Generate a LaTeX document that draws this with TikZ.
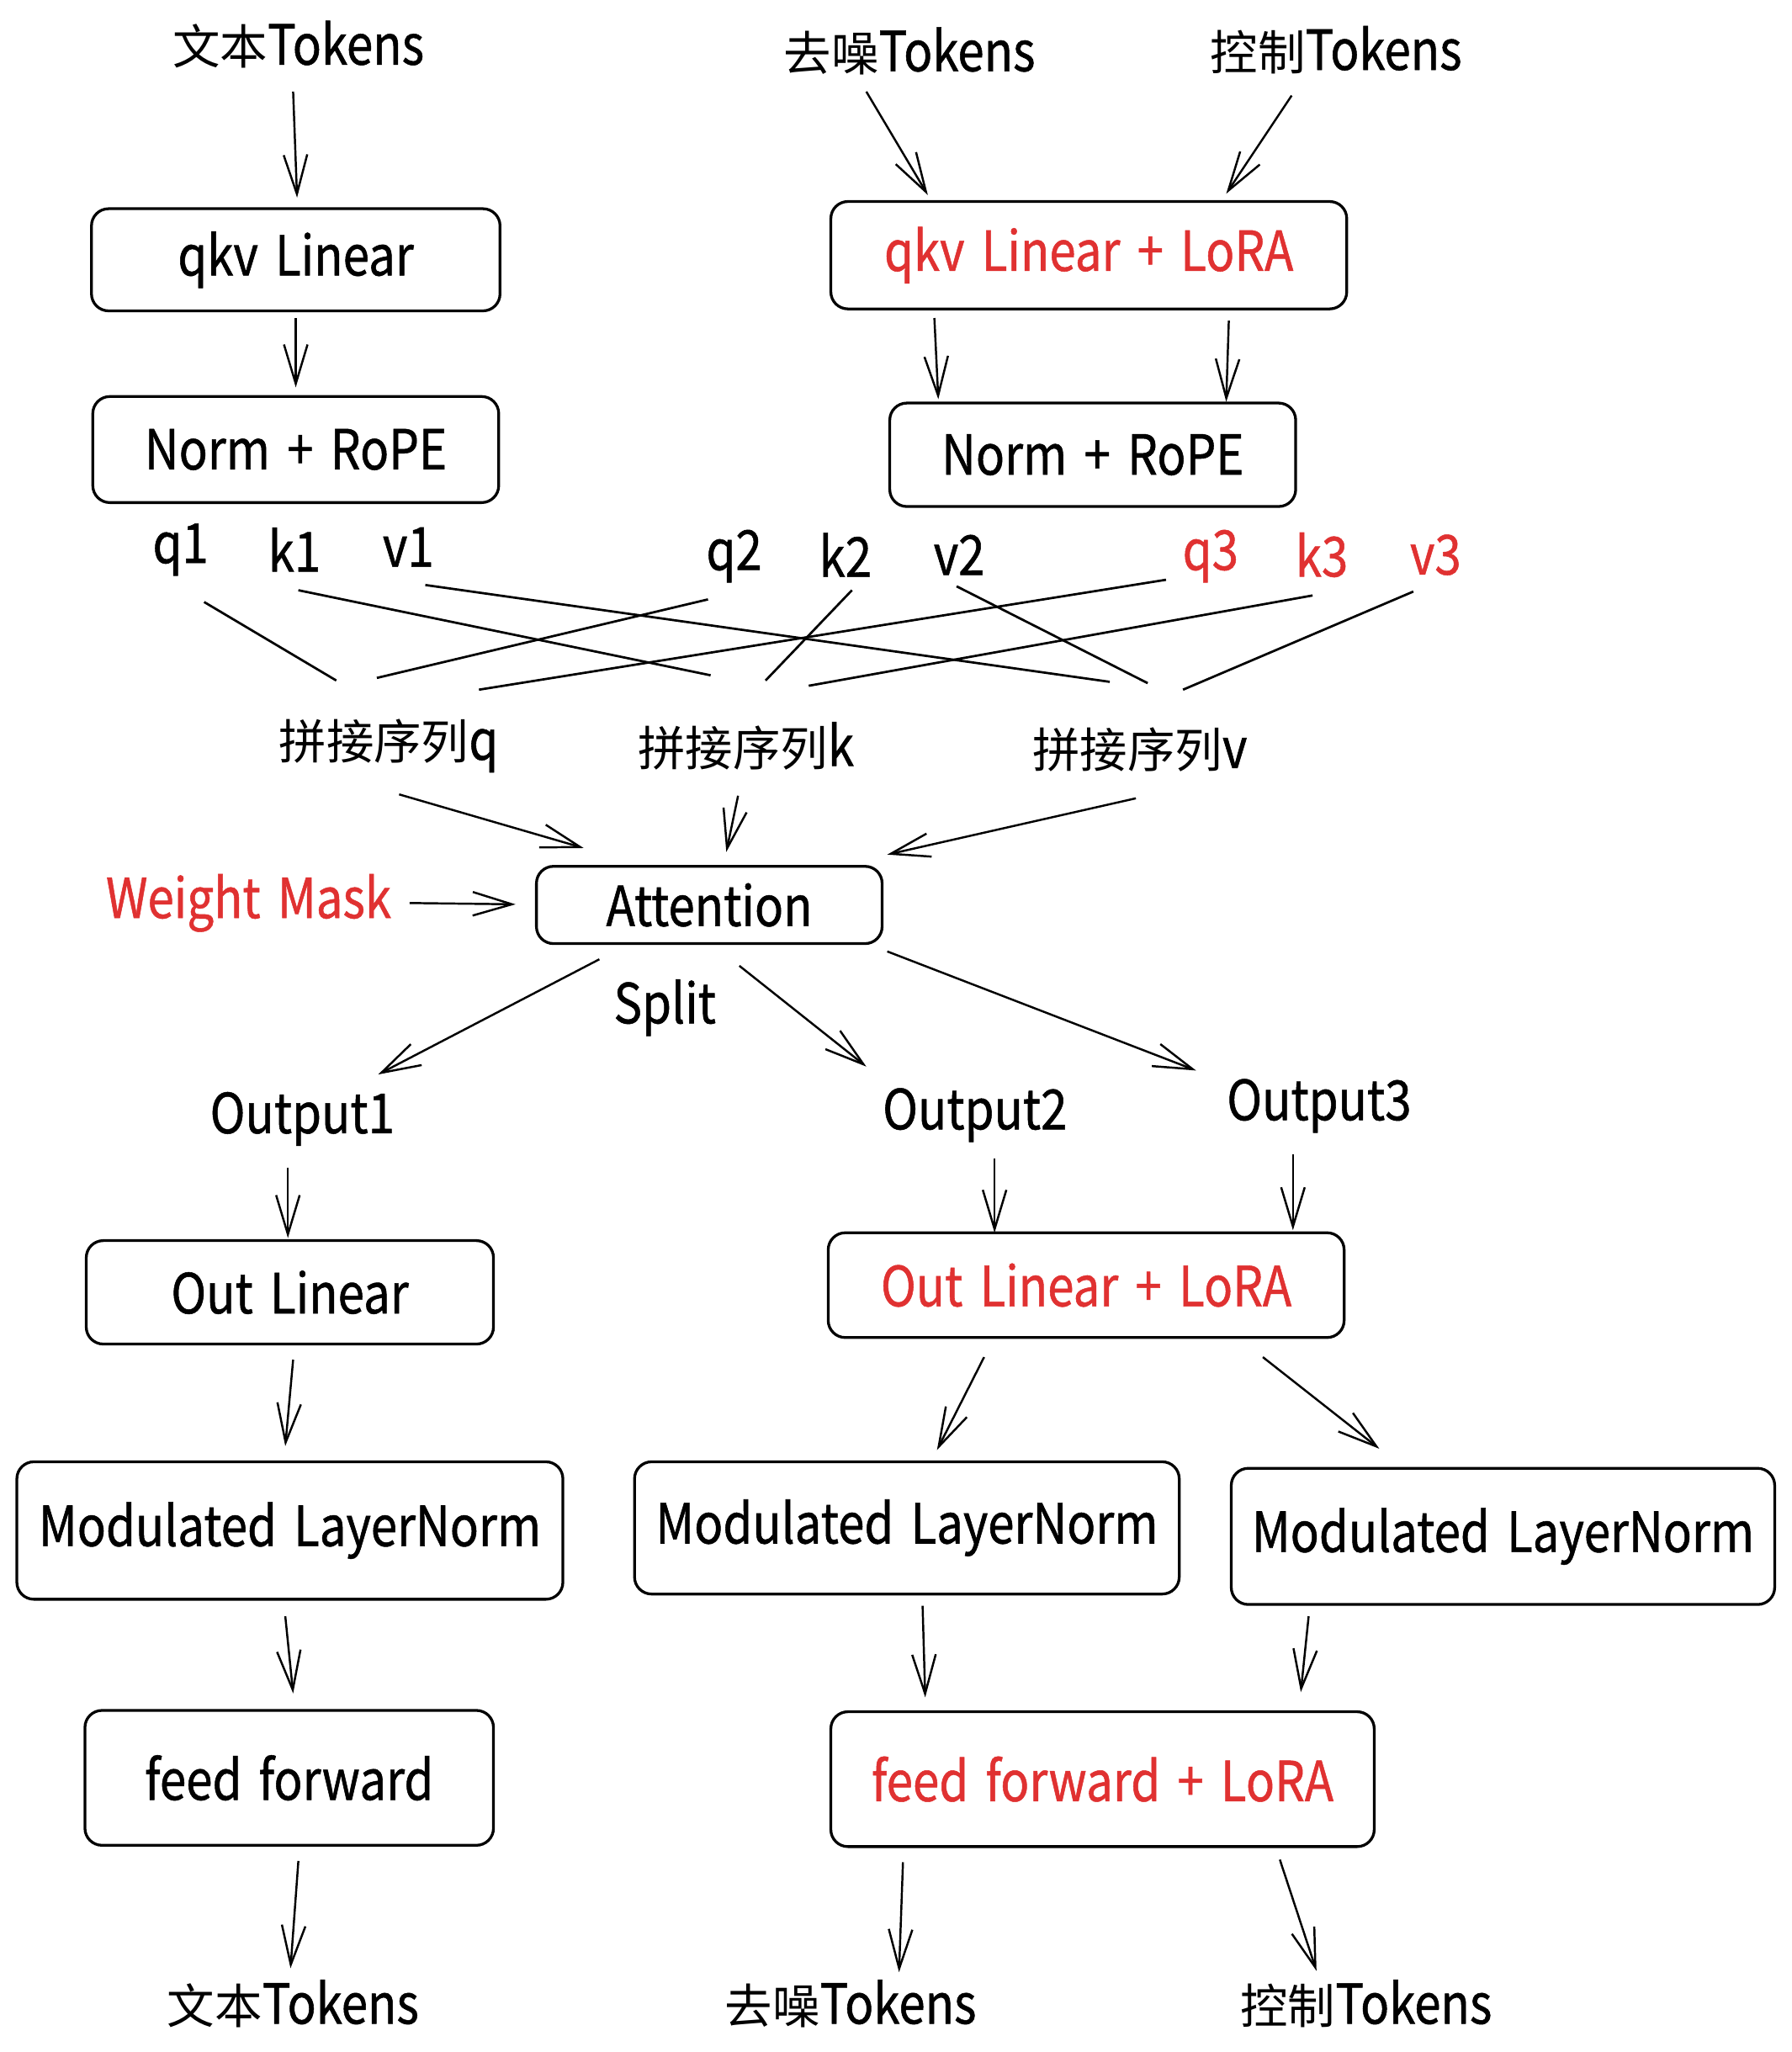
\documentclass[tikz,border=0pt]{standalone}
\usepackage{fontspec}
\setmainfont{Noto Sans CJK SC}[FakeStretch=0.86, FakeBold=0.8, WordSpace=1.6]
\newfontfamily\cjk[Scale=0.86]{Noto Sans CJK SC}
\usetikzlibrary{arrows.meta}
\definecolor{lorared}{RGB}{224,49,49}

\begin{document}
\begin{tikzpicture}[x=0.01cm, y=-0.01cm, font=\fontsize{12}{14}\selectfont]

      \useasboundingbox (0,0) rectangle (1369,1568);

      % blocks
      \begin{scope}[every node/.style={draw, rounded corners=1.3mm, line width=0.6pt, inner sep=0pt}]
        \node[minimum width=3.12cm, minimum height=0.78cm] (qkv1) at (226,198.5) {qkv Linear};
        \node[minimum width=3.94cm, minimum height=0.82cm, text=lorared] (qkv2) at (832,195) {qkv Linear + LoRA};
        \node[minimum width=3.10cm, minimum height=0.81cm] (norm1) at (226,343.5) {Norm + RoPE};
        \node[minimum width=3.10cm, minimum height=0.79cm] (norm2) at (835,347.5) {Norm + RoPE};
        \node[minimum width=2.64cm, minimum height=0.59cm] (attn) at (542,691.5) {Attention};
        \node[minimum width=3.11cm, minimum height=0.79cm] (out1) at (221.5,987.5) {Out Linear};
        \node[minimum width=3.94cm, minimum height=0.80cm, text=lorared] (out2) at (830,982) {Out Linear + LoRA};
        \node[minimum width=4.17cm, minimum height=1.05cm] (mln1) at (221.5,1169.5) {Modulated LayerNorm};
        \node[minimum width=4.16cm, minimum height=1.01cm] (mln2) at (693,1167.5) {Modulated LayerNorm};
        \node[minimum width=4.15cm, minimum height=1.04cm] (mln3) at (1148.5,1174) {Modulated LayerNorm};
        \node[minimum width=3.12cm, minimum height=1.03cm] (ff1) at (221,1358.5) {feed forward};
        \node[minimum width=4.15cm, minimum height=1.03cm, text=lorared] (ff2) at (842.5,1359.5) {feed forward + LoRA};
      \end{scope}

      % labels
      \begin{scope}[every node/.style={inner sep=0pt}]
        \node (tok1) at (228,34) {{\cjk 文本}Tokens};
        \node (tok2) at (695,39) {{\cjk 去噪}Tokens};
        \node (tok3) at (1021,38) {{\cjk 控制}Tokens};
        \node (q1) at (138,420) {q1};
        \node (k1) at (225,420) {k1};
        \node (v1) at (312,418) {v1};
        \node (q2) at (561,425) {q2};
        \node (k2) at (646,424) {k2};
        \node (v2) at (733,424) {v2};
        \node[text=lorared] (q3) at (925,425) {q3};
        \node[text=lorared] (k3) at (1010,424) {k3};
        \node[text=lorared] (v3) at (1097,424) {v3};
        \node (catq) at (297,570) {{\cjk 拼接序列}q};
        \node (catk) at (570,570) {{\cjk 拼接序列}k};
        \node (catv) at (871,573) {{\cjk 拼接序列}v};
        \node[text=lorared] (wm) at (190,690) {Weight Mask};
        \node (split) at (508,770) {Split};
        \node (o1) at (231,855) {Output1};
        \node (o2) at (745,852) {Output2};
        \node (o3) at (1008,845) {Output3};
        \node (btok1) at (224,1531) {{\cjk 文本}Tokens};
        \node (btok2) at (650,1531) {{\cjk 去噪}Tokens};
        \node (btok3) at (1044,1531) {{\cjk 控制}Tokens};
      \end{scope}

      % q/k/v into the concatenated sequences
      \begin{scope}[every edge/.style={draw, line width=0.5pt}]
        \path ([shift={(18,40)}]q1.center)  edge ([shift={(-40,-50)}]catq.center);
        \path ([shift={(3,31)}]k1.center)   edge ([shift={(-27,-54)}]catk.center);
        \path ([shift={(13,29)}]v1.center)  edge ([shift={(-23,-52)}]catv.center);
        \path ([shift={(-20,33)}]q2.center) edge ([shift={(-9,-52)}]catq.center);
        \path ([shift={(5,27)}]k2.center)   edge ([shift={(15,-50)}]catk.center);
        \path ([shift={(-2,24)}]v2.center)  edge ([shift={(6,-51)}]catv.center);
        \path ([shift={(-34,18)}]q3.center) edge ([shift={(69,-43)}]catq.center);
        \path ([shift={(-7,31)}]k3.center)  edge ([shift={(48,-46)}]catk.center);
        \path ([shift={(-17,28)}]v3.center) edge ([shift={(33,-46)}]catv.center);
      \end{scope}

      % arrows
      \begin{scope}[every edge/.style={draw, line width=0.45pt, -{Straight Barb[length=3mm, width=1.8mm]}}]
        \path ([shift={(-4,36)}]tok1.center)    edge ([shift={(1,-47.5)}]qkv1.center);
        \path ([shift={(-33,31)}]tok2.center)   edge ([shift={(-123,-46)}]qkv2.center);
        \path ([shift={(-34,35)}]tok3.center)   edge ([shift={(105,-47)}]qkv2.center);
        \path ([shift={(0,44.5)}]qkv1.center)   edge ([shift={(0,-47.5)}]norm1.center);
        \path ([shift={(-118,48)}]qkv2.center)  edge ([shift={(-118,-42.5)}]norm2.center);
        \path ([shift={(107,50)}]qkv2.center)   edge ([shift={(102,-40.5)}]norm2.center);

        \path ([shift={(8,37)}]catq.center)     edge ([shift={(-96,-43.5)}]attn.center);
        \path ([shift={(-6,38)}]catk.center)    edge ([shift={(13,-40.5)}]attn.center);
        \path ([shift={(-3,37)}]catv.center)    edge ([shift={(136,-38.5)}]attn.center);
        \path ([shift={(123,0)}]wm.center)      edge ([shift={(-148,-0.5)}]attn.center);

        \path ([shift={(-84,41.5)}]attn.center) edge ([shift={(58,-34)}]o1.center);
        \path ([shift={(23,46.5)}]attn.center)  edge ([shift={(-83,-37)}]o2.center);
        \path ([shift={(136,35.5)}]attn.center) edge ([shift={(-94,-27)}]o3.center);

        \path ([shift={(-11,37)}]o1.center)     edge ([shift={(-1.5,-41.5)}]out1.center);
        \path ([shift={(15,33)}]o2.center)      edge ([shift={(-70,-40)}]out2.center);
        \path ([shift={(-20,37)}]o3.center)     edge ([shift={(158,-42)}]out2.center);

        \path ([shift={(2.5,51.5)}]out1.center) edge ([shift={(-3.5,-64.5)}]mln1.center);
        \path ([shift={(-78,55)}]out2.center)   edge ([shift={(23,-59.5)}]mln2.center);
        \path ([shift={(135,55)}]out2.center)   edge ([shift={(-94.5,-67)}]mln3.center);

        \path ([shift={(-3.5,65.5)}]mln1.center)  edge ([shift={(3,-64.5)}]ff1.center);
        \path ([shift={(12,59.5)}]mln2.center)    edge ([shift={(-135.5,-62.5)}]ff2.center);
        \path ([shift={(-148.5,61)}]mln3.center)  edge ([shift={(151.5,-66.5)}]ff2.center);

        \path ([shift={(7,63.5)}]ff1.center)      edge ([shift={(-2,-27)}]btok1.center);
        \path ([shift={(-152.5,63.5)}]ff2.center) edge ([shift={(37,-24)}]btok2.center);
        \path ([shift={(135.5,61.5)}]ff2.center)  edge ([shift={(-38,-25)}]btok3.center);
      \end{scope}

    \end{tikzpicture}
\end{document}
